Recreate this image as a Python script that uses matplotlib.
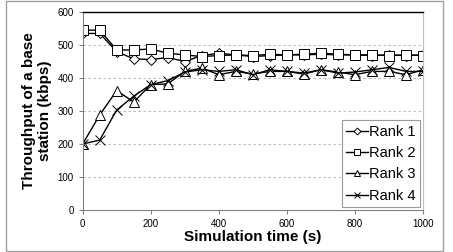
import numpy as np
import matplotlib
matplotlib.use("Agg")
import matplotlib.pyplot as plt

plt.rcParams['font.family'] = ['Liberation Sans', 'DejaVu Sans']

# simulation time (s)
time_s = [0, 50, 100, 150, 200, 250, 300, 350, 400, 450, 500,
          550, 600, 650, 700, 750, 800, 850, 900, 950, 1000]

# throughput (kbps) per rank
rank1 = [535, 535, 480, 458, 456, 462, 450, 468, 475, 470, 465,
         468, 470, 470, 472, 470, 470, 468, 470, 468, 470]
rank2 = [545, 545, 485, 485, 488, 475, 470, 465, 468, 470, 468,
         472, 470, 472, 475, 472, 470, 470, 468, 470, 468]
rank3 = [200, 288, 362, 327, 380, 382, 420, 430, 410, 420, 412,
         420, 420, 412, 425, 418, 410, 420, 420, 410, 425]
rank4 = [200, 212, 303, 345, 380, 392, 418, 425, 420, 425, 410,
         425, 420, 415, 425, 415, 418, 425, 432, 420, 420]

series = [("Rank 1", rank1, "D", 5),
          ("Rank 2", rank2, "s", 6.5),
          ("Rank 3", rank3, "^", 7),
          ("Rank 4", rank4, "x", 6.5)]

fig = plt.figure(figsize=(4.53, 2.52), dpi=100)
ax = fig.add_axes([82.7 / 453, 1 - 210 / 252, (423 - 82.7) / 453, (210 - 12) / 252])

# outer chart border
fig.patches.append(plt.Rectangle((6 / 453, 1 / 252), 437 / 453, 250 / 252,
                                 transform=fig.transFigure, fill=False,
                                 edgecolor="#a0a0a0", linewidth=1.0))

for name, vals, mk, ms in series:
    ax.plot(time_s, vals, color="black", linewidth=1.0, marker=mk,
            markersize=ms, markerfacecolor="white", markeredgecolor="black",
            markeredgewidth=0.7, label=name)

ax.set_xlim(0, 1000)
ax.set_ylim(0, 600)
ax.set_xticks([0, 200, 400, 600, 800, 1000])
ax.set_yticks([0, 100, 200, 300, 400, 500, 600])
ax.tick_params(labelsize=7, colors="#808080", labelcolor="black", length=3, width=0.8)
ax.yaxis.grid(True, linestyle=(0, (3, 3)), color="#b0b0b0", linewidth=0.6)
ax.set_axisbelow(True)

ax.spines['left'].set_color("#808080")
ax.spines['bottom'].set_color("#808080")
ax.spines['right'].set_color("#c0c0c0")
ax.spines['top'].set_color("black")
ax.spines['top'].set_linewidth(1.0)

ax.set_xlabel("Simulation time (s)", fontsize=11, fontweight="bold", labelpad=1)
ax.set_ylabel("Throughput of a base\nstation (kbps)", fontsize=11,
              fontweight="bold", labelpad=4)

leg = ax.legend(loc="lower right", fontsize=10.5, frameon=True, fancybox=False,
                edgecolor="#808080", handlelength=1.5, handletextpad=0.1,
                borderaxespad=0.2, borderpad=0.3, labelspacing=0.5,
                markerscale=0.7)
leg.get_frame().set_linewidth(0.8)

fig.savefig("out.png", dpi=100)
